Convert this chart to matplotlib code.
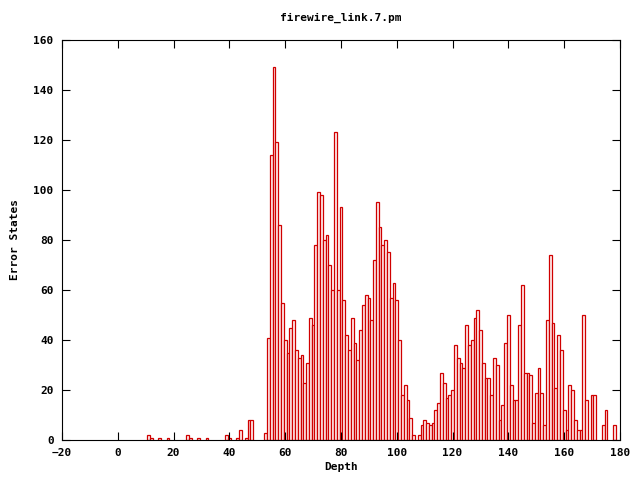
import numpy as np
import matplotlib
matplotlib.use("Agg")
import matplotlib.pyplot as plt

# depth -> error states
depth = [11, 12, 15, 18, 25, 26, 29, 32, 39, 40, 43, 44, 46, 47, 48,
         53, 54, 55, 56, 57, 58, 59, 60, 61, 62, 63, 64, 65, 66, 67, 68,
         69, 70, 71, 72, 73, 74, 75, 76, 77, 78, 79, 80, 81, 82, 83, 84,
         85, 86, 87, 88, 89, 90, 91, 92, 93, 94, 95, 96, 97, 98, 99, 100,
         101, 102, 103, 104, 105, 106, 108, 109, 110, 111, 112, 113, 114,
         115, 116, 117, 118, 119, 120, 121, 122, 123, 124, 125, 126, 127,
         128, 129, 130, 131, 132, 133, 134, 135, 136, 137, 138, 139, 140,
         141, 142, 143, 144, 145, 146, 147, 148, 149, 150, 151, 152, 153,
         154, 155, 156, 157, 158, 159, 160, 161, 162, 163, 164, 165, 166,
         167, 168, 170, 171, 174, 175, 178]
states = [2, 1, 1, 1, 2, 1, 1, 1, 2, 1, 1, 4, 1, 8, 8,
          3, 41, 114, 149, 119, 86, 55, 40, 35, 45, 48, 36, 33, 34, 23, 31,
          49, 46, 78, 99, 98, 80, 82, 70, 60, 123, 60, 93, 56, 42, 36, 49,
          39, 32, 44, 54, 58, 57, 48, 72, 95, 85, 78, 80, 75, 57, 63, 56,
          40, 18, 22, 16, 9, 2, 2, 6, 8, 7, 6, 7, 12,
          15, 27, 23, 17, 18, 20, 38, 33, 31, 29, 46, 38, 40,
          49, 52, 44, 31, 25, 25, 18, 33, 30, 8, 14, 39, 50,
          22, 16, 16, 46, 62, 27, 27, 26, 7, 19, 29, 19, 6,
          48, 74, 47, 21, 42, 36, 12, 4, 22, 20, 8, 4, 4,
          50, 16, 18, 18, 6, 12, 6]

plt.rcParams['font.family'] = ['DejaVu Sans Mono']
plt.rcParams['font.size'] = 8
plt.rcParams['font.weight'] = 'bold'

fig = plt.figure(figsize=(6.4, 4.8), dpi=100)
ax = fig.add_axes([62 / 640, 40 / 480, 558 / 640, 400 / 480])

ax.bar(depth, states, width=1.0, facecolor='#fff0f0', edgecolor='#d00000',
       linewidth=0.9)

ax.set_xlim(-20, 180)
ax.set_ylim(0, 160)
ax.set_xticks(np.arange(-20, 181, 20))
ax.set_yticks(np.arange(0, 161, 20))
ax.tick_params(direction='in', length=6, width=0.8, top=True, right=True,
               labelsize=8, pad=6)
for lab in ax.get_xticklabels() + ax.get_yticklabels():
    lab.set_fontweight('bold')
for s in ax.spines.values():
    s.set_linewidth(0.8)

ax.set_title("firewire_link.7.pm", fontsize=8, fontweight='bold', pad=14)
ax.set_xlabel("Depth", fontsize=8, fontweight='bold', labelpad=3)
ax.set_ylabel("Error States", fontsize=8, fontweight='bold', labelpad=10)

fig.savefig("out.png", dpi=100)
